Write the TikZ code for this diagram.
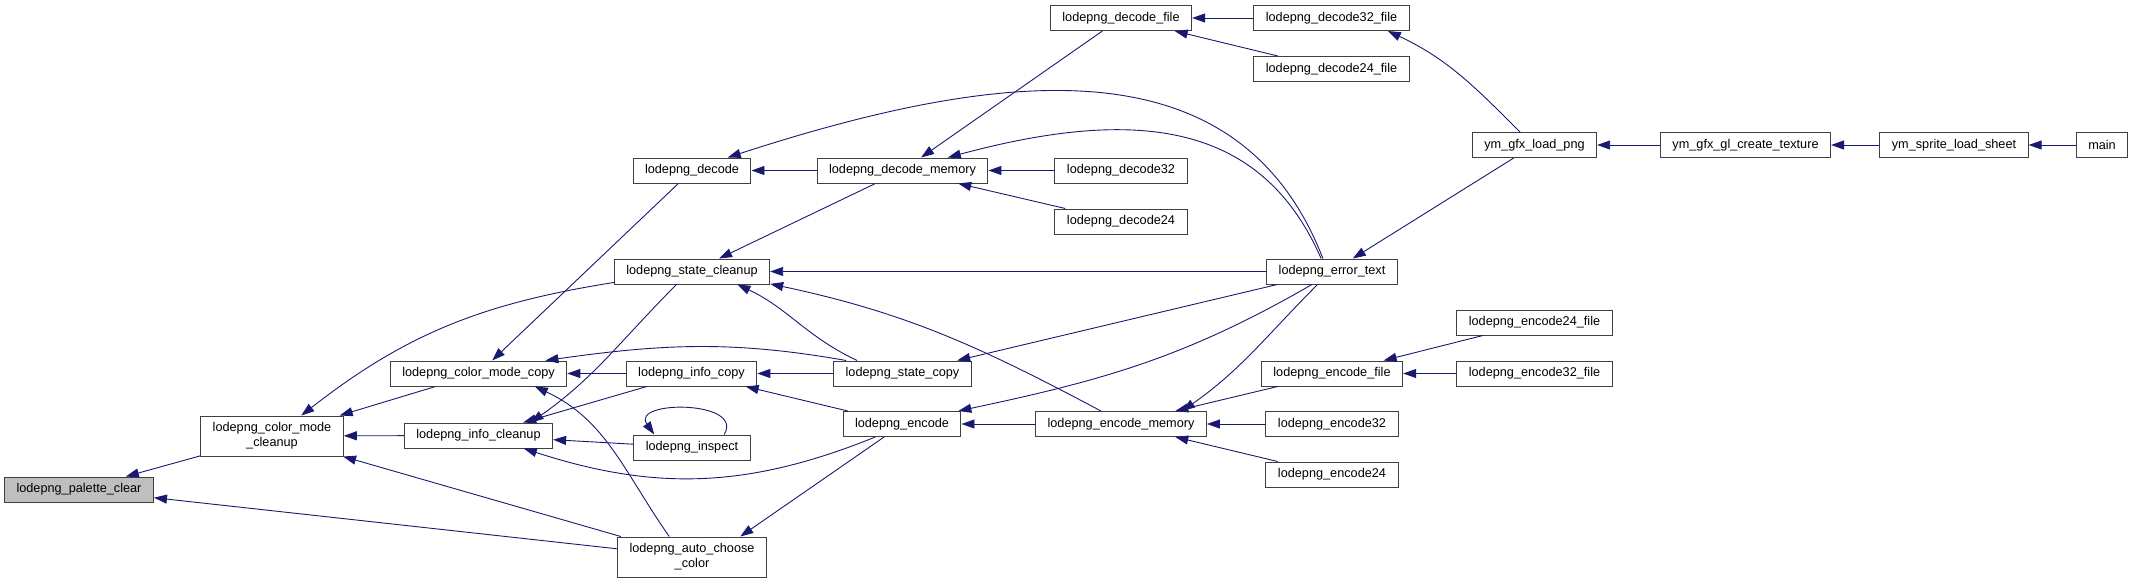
\documentclass[tikz,border=0pt]{standalone}
\usepackage{fontspec}
\usetikzlibrary{arrows.meta}
\newfontfamily\graphfont{Liberation Sans}
\definecolor{edgeblue}{RGB}{25,25,112}

\begin{document}
\begin{tikzpicture}[x=1pt, y=1pt, >={Triangle[length=13pt, width=9pt]}]
        \tikzset{
            block/.style={draw=black!75, line width=1pt, fill=white, minimum height=25pt, inner xsep=12pt, inner ysep=0pt, align=center, font=\graphfont\fontsize{12.7pt}{15pt}\selectfont},
            arrow/.style={->, draw=edgeblue, line width=0.9pt}
        }
        \useasboundingbox (0, 0) rectangle (2133, -583);
        
        \node[block, fill=black!25] (palclear) at (79, -489.5) {lodepng\_palette\_clear};
        \node[block, minimum height=40pt] (cmcleanup) at (272, -436) {lodepng\_color\_mode\\\_cleanup};
        \node[block] (cmcopy) at (478.5, -373.5) {lodepng\_color\_mode\_copy};
        \node[block] (infocleanup) at (478.5, -435.5) {lodepng\_info\_cleanup};
        \node[block] (decode) at (692, -170.5) {lodepng\_decode};
        \node[block] (statecleanup) at (692, -271.5) {lodepng\_state\_cleanup};
        \node[block] (infocopy) at (691.5, -373.5) {lodepng\_info\_copy};
        \node[block] (inspect) at (692, -447.5) {lodepng\_inspect};
        \node[block, minimum height=40pt] (autochoose) at (692, -557) {lodepng\_auto\_choose\\\_color};
        \node[block] (decmemory) at (902.5, -170.5) {lodepng\_decode\_memory};
        \node[block] (statecopy) at (902.5, -373.5) {lodepng\_state\_copy};
        \node[block] (encode) at (902, -424) {lodepng\_encode};
        \node[block] (decfile) at (1121, -18) {lodepng\_decode\_file};
        \node[block] (dec32) at (1121, -170.5) {lodepng\_decode32};
        \node[block] (dec24) at (1121, -221.5) {lodepng\_decode24};
        \node[block] (encmemory) at (1121, -424) {lodepng\_encode\_memory};
        \node[block] (dec32file) at (1331.5, -18) {lodepng\_decode32\_file};
        \node[block] (dec24file) at (1331.5, -69) {lodepng\_decode24\_file};
        \node[block] (errortext) at (1332, -271.5) {lodepng\_error\_text};
        \node[block] (encfile) at (1332, -373.5) {lodepng\_encode\_file};
        \node[block] (enc32) at (1332, -424) {lodepng\_encode32};
        \node[block] (enc24) at (1332, -474.5) {lodepng\_encode24};
        \node[block] (loadpng) at (1534.5, -145) {ym\_gfx\_load\_png};
        \node[block] (enc24file) at (1534.5, -322.5) {lodepng\_encode24\_file};
        \node[block] (enc32file) at (1534.5, -373.5) {lodepng\_encode32\_file};
        \node[block] (texture) at (1745.5, -145) {ym\_gfx\_gl\_create\_texture};
        \node[block] (sheet) at (1954, -145) {ym\_sprite\_load\_sheet};
        \node[block] (main) at (2102, -145) {main};
        
        \draw[arrow] (cmcleanup) -- (palclear);
        \draw[arrow] (autochoose) -- (palclear);
        \draw[arrow] (statecleanup.188) to[out=189, in=38] (cmcleanup.35);
        \draw[arrow] (cmcopy) -- (cmcleanup);
        \draw[arrow] (infocleanup) -- (cmcleanup);
        \draw[arrow] (autochoose) -- (cmcleanup);
        \draw[arrow] (decode) -- (cmcopy);
        \draw[arrow] (statecopy.167) to[out=170, in=8] (cmcopy.11);
        \draw[arrow] (infocopy) -- (cmcopy);
        \draw[arrow] (autochoose.138) to[out=125, in=-25] (cmcopy.-13);
        \draw[arrow] (decmemory) -- (statecleanup);
        \draw[arrow] (errortext) -- (statecleanup);
        \draw[arrow] (statecopy.164) to[out=155, in=-25] (statecleanup.-16);
        \draw[arrow] (encmemory.147) to[out=152, in=-12] (statecleanup.-9);
        \draw[arrow] (decmemory) -- (decode);
        \draw[arrow] (errortext.125) .. controls (1240, -45) and (1012, -65) .. (decode.20);
        \draw[arrow] (errortext.130) .. controls (1262, -123) and (1139, -106) .. (decmemory.16);
        \draw[arrow] (decfile) -- (decmemory);
        \draw[arrow] (dec32) -- (decmemory);
        \draw[arrow] (dec24) -- (decmemory);
        \draw[arrow] (dec32file) -- (decfile);
        \draw[arrow] (dec24file) -- (decfile);
        \draw[arrow] (loadpng.138) to[out=135, in=-25] (dec32file.-13);
        \draw[arrow] (texture) -- (loadpng);
        \draw[arrow] (sheet) -- (texture);
        \draw[arrow] (main) -- (sheet);
        \draw[arrow] (loadpng) -- (errortext);
        \draw[arrow] (errortext) -- (statecopy);
        \draw[arrow] (errortext.213) to[out=210, in=12] (encode.13);
        \draw[arrow] (errortext.222) to[out=225, in=35] (encmemory.12);
        \draw[arrow] (encfile) -- (encmemory);
        \draw[arrow] (enc32) -- (encmemory);
        \draw[arrow] (enc24) -- (encmemory);
        \draw[arrow] (enc24file) -- (encfile);
        \draw[arrow] (enc32file) -- (encfile);
        \draw[arrow] (encmemory) -- (encode);
        \draw[arrow] (statecopy) -- (infocopy);
        \draw[arrow] (encode) -- (infocopy);
        \draw[arrow] (encode.206) to[out=202, in=-18] (infocleanup.-16);
        \draw[arrow] (encode.216) -- (autochoose.23);
        \draw[arrow] (statecleanup.220) to[out=225, in=35] (infocleanup.14);
        \draw[arrow] (infocopy) -- (infocleanup);
        \draw[arrow] (inspect) -- (infocleanup);
        \draw[arrow] (inspect.22) .. controls (745, -400) and (630, -400) .. (inspect.161);
    \end{tikzpicture}
\end{document}
